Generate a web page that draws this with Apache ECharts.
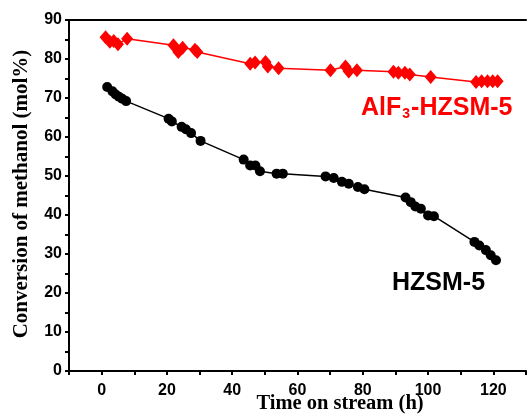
<!DOCTYPE html>
<html><head><meta charset="utf-8">
<script src="https://cdn.jsdelivr.net/npm/echarts@6/dist/echarts.min.js"></script>
<style>html,body{margin:0;padding:0;background:#fff}#c{width:529px;height:416px}</style>
</head><body><div id="c"></div>
<script>
var alfTime = [1.2, 2.5, 3.7, 5.0, 7.8, 22.0, 23.5, 24.8, 28.6, 29.3, 45.5, 47.0, 50.2, 50.9, 54.2, 70.1, 74.7, 75.7, 78.2, 89.4, 90.9, 92.9, 94.4, 100.8, 114.7, 116.4, 118.2, 119.8, 121.3];
var alfConv = [85.6, 84.4, 84.6, 83.8, 85.2, 83.5, 81.8, 82.9, 82.4, 81.8, 78.8, 79.1, 79.2, 78.1, 77.6, 77.1, 78.1, 76.8, 77.1, 76.7, 76.5, 76.5, 76.0, 75.4, 74.1, 74.3, 74.3, 74.3, 74.3];
var hzTime = [1.7, 3.3, 4.3, 5.3, 6.3, 7.5, 20.5, 21.5, 24.5, 25.8, 27.4, 30.3, 43.5, 45.5, 47.1, 48.5, 53.6, 55.5, 68.6, 71.1, 73.6, 75.7, 78.5, 80.5, 93.1, 94.7, 96.1, 97.8, 100.0, 101.8, 114.2, 115.7, 117.7, 119.2, 120.8];
var hzConv = [72.8, 71.7, 70.9, 70.3, 69.8, 69.2, 64.7, 64.0, 62.6, 62.0, 61.0, 59.0, 54.2, 52.7, 52.7, 51.2, 50.6, 50.6, 49.9, 49.5, 48.5, 48.0, 47.2, 46.6, 44.5, 43.3, 42.2, 41.6, 39.9, 39.7, 33.1, 32.2, 31.0, 29.7, 28.4];
var xTicks = [0, 20, 40, 60, 80, 100, 120];
var yTicks = [0, 10, 20, 30, 40, 50, 60, 70, 80, 90];
var xName = 'Time on stream (h)';
var yName = 'Conversion of methanol (mol%)';

function pairs(a, b){ return a.map(function(v,i){ return [v, b[i]]; }); }
var chart = echarts.init(document.getElementById('c'));
var tickFont = {fontFamily:'Liberation Sans, Arial', fontWeight:'bold', fontSize:16, color:'#000'};
var serif = 'Liberation Serif, Times New Roman';
chart.setOption({
  animation:false,
  backgroundColor:'#fff',
  grid:{left:69, right:0, top:20, bottom:45},
  xAxis:[{
    type:'value', min:-10, max:130, interval:10,
    axisLine:{show:true, onZero:false, lineStyle:{color:'#000', width:2}},
    axisTick:{show:true, length:4, lineStyle:{color:'#000', width:2}},
    splitLine:{show:false},
    axisLabel:Object.assign({margin:12, formatter:function(v){ return xTicks.indexOf(v) >= 0 ? String(v) : ''; }}, tickFont)
  },{
    type:'value', min:-10, max:130, position:'top',
    axisLine:{show:true, onZero:false, lineStyle:{color:'#000', width:2}},
    axisTick:{show:false}, axisLabel:{show:false}, splitLine:{show:false}
  }],
  yAxis:[{
    type:'value', min:0, max:90, interval:5,
    axisLine:{show:true, onZero:false, lineStyle:{color:'#000', width:2}},
    axisTick:{show:true, length:4, lineStyle:{color:'#000', width:2}},
    splitLine:{show:false},
    axisLabel:Object.assign({margin:7, formatter:function(v){ return yTicks.indexOf(v) >= 0 ? String(v) : ''; }}, tickFont)
  }],
  series:[{
    type:'line', data:pairs(alfTime, alfConv), symbol:'diamond', symbolSize:[12,14],
    itemStyle:{color:'#ff0000'}, lineStyle:{color:'#ff0000', width:1.5}
  },{
    type:'line', data:pairs(hzTime, hzConv), symbol:'circle', symbolSize:10,
    itemStyle:{color:'#000'}, lineStyle:{color:'#000', width:1.5}
  }],
  graphic:[{
    type:'text', x:340, y:414,
    style:{text:xName, fontFamily:serif, fontWeight:'bold', fontSize:20.5, fill:'#000', align:'center', verticalAlign:'bottom'}
  },{
    type:'text', x:22, y:194, rotation:Math.PI/2,
    style:{text:yName, fontFamily:serif, fontWeight:'bold', fontSize:21, fill:'#000', align:'center', verticalAlign:'middle'}
  },{
    type:'text', left:361, top:96,
    style:{
      text:'{a|AlF}{s|3}{a|-HZSM-5}',
      rich:{
        a:{fontFamily:'Liberation Sans, Arial', fontWeight:'bold', fontSize:25, fill:'#ff0000', verticalAlign:'bottom', lineHeight:26},
        s:{fontFamily:'Liberation Sans, Arial', fontWeight:'bold', fontSize:14, fill:'#ff0000', verticalAlign:'bottom', lineHeight:22, padding:[0,1,0,1]}
      }
    }
  },{
    type:'text', left:392, top:271,
    style:{text:'HZSM-5', fontFamily:'Liberation Sans, Arial', fontWeight:'bold', fontSize:25, fill:'#000'}
  }]
});
</script></body></html>
